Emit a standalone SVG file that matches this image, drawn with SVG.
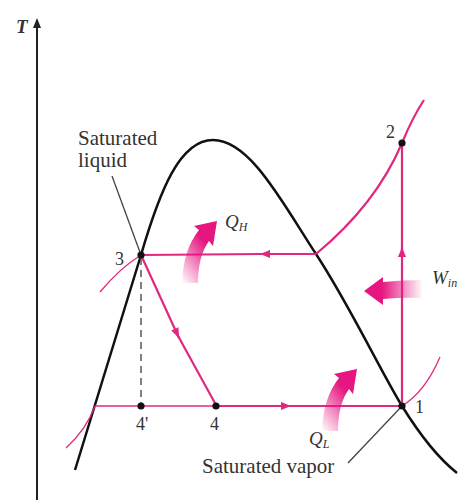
<svg xmlns="http://www.w3.org/2000/svg" width="458" height="500" viewBox="0 0 458 500">
<style>
.lbl{font-family:"Liberation Serif","Times New Roman",serif;fill:#333;}
.num{font-size:18px;}
.big{font-size:21px;}
.it{font-style:italic;font-size:19px;}
.sub{font-style:italic;font-size:12px;}
.pk{stroke:#e0287f;fill:none;stroke-width:2.2;}
.pkt{stroke:#e0287f;fill:none;stroke-width:1.3;}
.dot{fill:#111;}
.lead{stroke:#444;stroke-width:1.3;fill:none;}
</style>
<defs>
<marker id="ah" viewBox="0 0 10 8" refX="10" refY="4" markerWidth="11" markerHeight="8" markerUnits="userSpaceOnUse" orient="auto"><path d="M0,0 L10,4 L0,8 z" fill="#e0287f"/></marker>
<linearGradient id="gq" x1="0" y1="1" x2="0.7" y2="0"><stop offset="0" stop-color="#e6157f" stop-opacity="0"/><stop offset="0.75" stop-color="#e6157f" stop-opacity="1"/></linearGradient>
<linearGradient id="gw" x1="1" y1="0" x2="0" y2="0"><stop offset="0" stop-color="#e6157f" stop-opacity="0"/><stop offset="0.7" stop-color="#e6157f" stop-opacity="1"/></linearGradient>
<path id="qarrow" d="M182,283 Q183,250 199,230 L194,226 L217,221 L213,246 L209,241 Q198,256 198,283 Z" fill="url(#gq)"/>
</defs>
<rect width="458" height="500" fill="#fff"/>

<g id="axis">
<line x1="37" y1="500" x2="37" y2="20" stroke="#222" stroke-width="2"/>
<path d="M33,28 L37,18 L41,28 z" fill="#222"/>
<text class="lbl" x="16" y="33" font-size="19" font-style="italic" font-weight="bold">T</text>
</g>

<g id="dome">
<path d="M75,470 L141,255 C160,190 180,140 213,140 C250,140 282,202 316,254 C350,306 380,370 402,406 C420,435 438,458 457,473" fill="none" stroke="#111" stroke-width="2.5"/>
</g>

<g id="connectors">
<path class="pkt" d="M66,448 Q86,430 95,406"/>
<path class="pkt" d="M100,292 Q120,268 141,255"/>
<path class="pkt" d="M402,406 Q425,392 440,357"/>
<line class="pkt" x1="95" y1="406" x2="216" y2="406"/>
<line class="pk" x1="402" y1="406" x2="402" y2="247" marker-end="url(#ah)"/>
<line class="pk" x1="402" y1="250" x2="402" y2="143"/>
<path class="pk" d="M402,143 C409,126 416,112 424,100"/>
<path class="pk" d="M316,254 C345,230 380,195 402,143"/>
<line class="pk" x1="316" y1="254" x2="260" y2="254" marker-end="url(#ah)"/>
<line class="pk" x1="263" y1="254" x2="141" y2="255"/>
<line class="pk" x1="141" y1="255" x2="179" y2="338" marker-end="url(#ah)"/>
<line class="pk" x1="177" y1="334" x2="216" y2="405"/>
<line class="pk" x1="216" y1="406" x2="291" y2="406" marker-end="url(#ah)"/>
<line class="pk" x1="288" y1="406" x2="402" y2="406"/>
<line x1="141" y1="258" x2="141" y2="405" stroke="#555" stroke-width="1.5" stroke-dasharray="7,5"/>
<line class="lead" x1="112" y1="176" x2="141" y2="255"/>
<line class="lead" x1="348" y1="463" x2="402" y2="406"/>
</g>

<g id="heat-arrows">
<use href="#qarrow"/>
<use href="#qarrow" transform="translate(140,148)"/>
<path d="M423,280 Q402,280 383,282 L383,277 L364,291 L383,305 L383,299 Q404,297 423,298 Z" fill="url(#gw)"/>
</g>

<g id="p1"><circle class="dot" cx="402" cy="406" r="3.6"/><text class="lbl num" x="415" y="413">1</text></g>
<g id="p2"><circle class="dot" cx="402" cy="143" r="3.6"/><text class="lbl num" x="386" y="138">2</text></g>
<g id="p3"><circle class="dot" cx="141" cy="255" r="3.6"/><text class="lbl num" x="115" y="265">3</text></g>
<g id="p4"><circle class="dot" cx="216" cy="406" r="3.6"/><text class="lbl num" x="210" y="430">4</text></g>
<g id="p4p"><circle class="dot" cx="141" cy="406" r="3.6"/><text class="lbl num" x="136" y="430">4'</text></g>

<g id="labels">
<text class="lbl big" x="78" y="145">Saturated</text>
<text class="lbl big" x="78" y="167">liquid</text>
<text class="lbl big" x="202" y="473">Saturated vapor</text>
<text class="lbl it" x="225" y="228">Q<tspan class="sub" dy="3">H</tspan></text>
<text class="lbl it" x="309" y="445">Q<tspan class="sub" dy="3">L</tspan></text>
<text class="lbl it" x="432" y="284">W<tspan class="sub" dy="3">in</tspan></text>
</g>
</svg>
